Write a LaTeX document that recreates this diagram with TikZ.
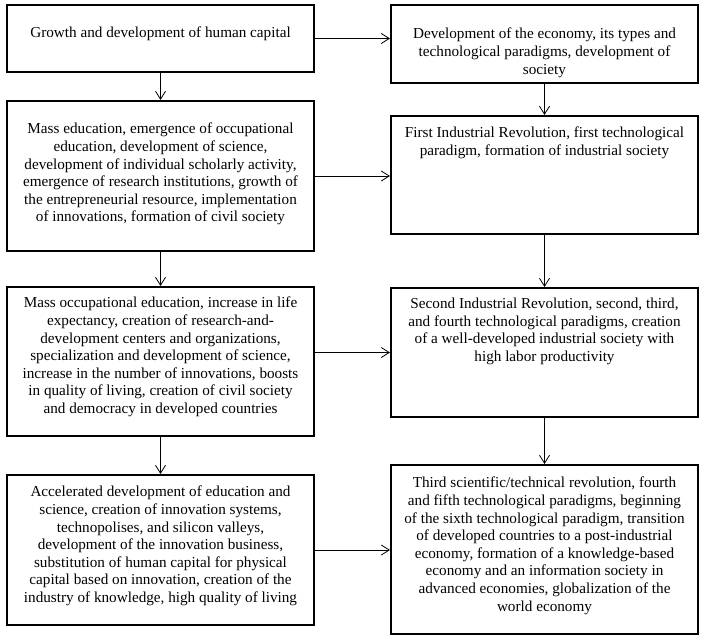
\documentclass[tikz,border=0pt]{standalone}
\usepackage{fontspec}
\setmainfont{Liberation Serif}
\usetikzlibrary{arrows.meta}
\begin{document}
\begin{tikzpicture}[x=1pt,y=1pt,
  box/.style={draw, line width=2pt, inner sep=0pt},
  txt/.style={anchor=north, inner sep=0pt, align=center, font=\fontsize{15.2}{17.6}\selectfont},
  conn/.style={line width=0.8pt, -{Straight Barb[length=8pt,width=10pt,line width=0.8pt]}}]
\useasboundingbox (0,0) rectangle (705,-640);
% left column
\node[box, minimum width=307pt, minimum height=67pt]  (L1) at (160.5,-38.5) {};
\node[box, minimum width=307pt, minimum height=150pt] (L2) at (160.5,-176) {};
\node[box, minimum width=307pt, minimum height=149pt] (L3) at (160.5,-361.5) {};
\node[box, minimum width=307pt, minimum height=150pt] (L4) at (160.5,-550) {};
% right column
\node[box, minimum width=307pt, minimum height=78pt]  (R1) at (544.5,-44) {};
\node[box, minimum width=307pt, minimum height=118pt] (R2) at (544.5,-175) {};
\node[box, minimum width=307pt, minimum height=129pt] (R3) at (544.5,-352.5) {};
\node[box, minimum width=307pt, minimum height=169pt] (R4) at (544.5,-549.5) {};
% texts
\node[txt] (L1t) at ([yshift=-23pt]L1.north) {Growth and development of human capital};
\node[txt] (L2t) at ([yshift=-23pt]L2.north) {Mass education, emergence of occupational\\ education, development of science,\\ development of individual scholarly activity,\\ emergence of research institutions, growth of\\ the entrepreneurial resource, implementation\\ of innovations, formation of civil society};
\node[txt] (L3t) at ([yshift=-11pt]L3.north) {Mass occupational education, increase in life\\ expectancy, creation of research-and-\\ development centers and organizations,\\ specialization and development of science,\\ increase in the number of innovations, boosts\\ in quality of living, creation of civil society\\ and democracy in developed countries};
\node[txt] (L4t) at ([yshift=-12pt]L4.north) {Accelerated development of education and\\ science, creation of innovation systems,\\ technopolises, and silicon valleys,\\ development of the innovation business,\\ substitution of human capital for physical\\ capital based on innovation, creation of the\\ industry of knowledge, high quality of living};
\node[txt] (R1t) at ([yshift=-24pt]R1.north) {Development of the economy, its types and\\ technological paradigms, development of\\ society};
\node[txt] (R2t) at ([yshift=-12pt]R2.north) {First Industrial Revolution, first technological\\ paradigm, formation of industrial society};
\node[txt] (R3t) at ([yshift=-11pt]R3.north) {Second Industrial Revolution, second, third,\\ and fourth technological paradigms, creation\\ of a well-developed industrial society with\\ high labor productivity};
\node[txt] (R4t) at ([yshift=-13pt]R4.north) {Third scientific/technical revolution, fourth\\ and fifth technological paradigms, beginning\\ of the sixth technological paradigm, transition\\ of developed countries to a post-industrial\\ economy, formation of a knowledge-based\\ economy and an information society in\\ advanced economies, globalization of the\\ world economy};
% vertical connectors
\draw[conn] (L1.south) -- (L2.north);
\draw[conn] (L2.south) -- (L3.north);
\draw[conn] (L3.south) -- (L4.north);
\draw[conn] (R1.south) -- (R2.north);
\draw[conn] (R2.south) -- (R3.north);
\draw[conn] (R3.south) -- (R4.north);
% horizontal connectors
\draw[conn] (L1.east) -- (L1.east -| R1.west);
\draw[conn] (L2.east) -- (L2.east -| R2.west);
\draw[conn] (R3.west -| L3.east) -- (R3.west);
\draw[conn] (L4.east) -- (L4.east -| R4.west);
\end{tikzpicture}
\end{document}
